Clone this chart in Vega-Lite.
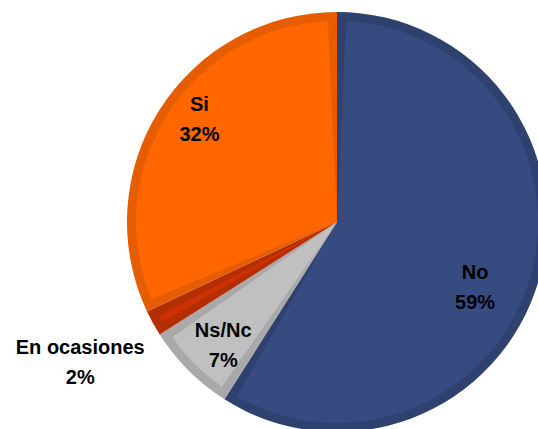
{
  "$schema": "https://vega.github.io/schema/vega-lite/v6.json",
  "width": 538,
  "height": 429,
  "autosize": {"type": "none"},
  "padding": 0,
  "background": "white",
  "data": {
    "values": [
      {"cat": "No", "share": 0.59, "order": 1, "label": "No\n59%"},
      {"cat": "Ns/Nc", "share": 0.07, "order": 2, "label": "Ns/Nc\n7%"},
      {"cat": "En ocasiones", "share": 0.02, "order": 3, "label": "En ocasiones\n2%"},
      {"cat": "Si", "share": 0.32, "order": 4, "label": "Si\n32%"}
    ]
  },
  "encoding": {
    "theta": {"field": "share", "type": "quantitative", "stack": true},
    "order": {"field": "order", "type": "quantitative"}
  },
  "layer": [
    {
      "mark": {"type": "arc", "radius": 210, "x": 337, "y": 222},
      "encoding": {
        "color": {
          "field": "cat", "type": "nominal", "legend": null,
          "scale": {"domain": ["No", "Ns/Nc", "En ocasiones", "Si"], "range": ["#2E416F", "#A9A9A9", "#B32E00", "#E65C00"]}
        }
      }
    },
    {
      "mark": {"type": "arc", "radius": 201, "padAngle": 0.09, "x": 337, "y": 222},
      "encoding": {
        "color": {
          "field": "cat", "type": "nominal", "legend": null,
          "scale": {"domain": ["No", "Ns/Nc", "En ocasiones", "Si"], "range": ["#364C80", "#C0C0C0", "#CC3300", "#FF6600"]}
        }
      }
    },
    {
      "mark": {"type": "text", "radius": 150, "x": 337, "y": 222, "dx": -6, "dy": 9, "font": "Liberation Sans", "fontSize": 20, "fontWeight": "bold", "lineBreak": "\n", "lineHeight": 30, "align": "center", "baseline": "middle", "color": "black"},
      "encoding": {"text": {"condition": {"test": "datum.cat === 'No'", "field": "label"}, "value": ""}}
    },
    {
      "mark": {"type": "text", "radius": 170, "x": 337, "y": 222, "dx": 6, "dy": -26, "font": "Liberation Sans", "fontSize": 20, "fontWeight": "bold", "lineBreak": "\n", "lineHeight": 30, "align": "center", "baseline": "middle", "color": "black"},
      "encoding": {"text": {"condition": {"test": "datum.cat === 'Si'", "field": "label"}, "value": ""}}
    },
    {
      "mark": {"type": "text", "radius": 168, "x": 337, "y": 222, "dx": 5, "dy": -10, "font": "Liberation Sans", "fontSize": 20, "fontWeight": "bold", "lineBreak": "\n", "lineHeight": 30, "align": "center", "baseline": "middle", "color": "black"},
      "encoding": {"text": {"condition": {"test": "datum.cat === 'Ns/Nc'", "field": "label"}, "value": ""}}
    },
    {
      "mark": {"type": "text", "radius": 293, "x": 337, "y": 222, "dy": -15, "font": "Liberation Sans", "fontSize": 20, "fontWeight": "bold", "lineBreak": "\n", "lineHeight": 30, "align": "center", "baseline": "middle", "color": "black"},
      "encoding": {"text": {"condition": {"test": "datum.cat === 'En ocasiones'", "field": "label"}, "value": ""}}
    }
  ],
  "resolve": {"scale": {"color": "independent"}}
}
